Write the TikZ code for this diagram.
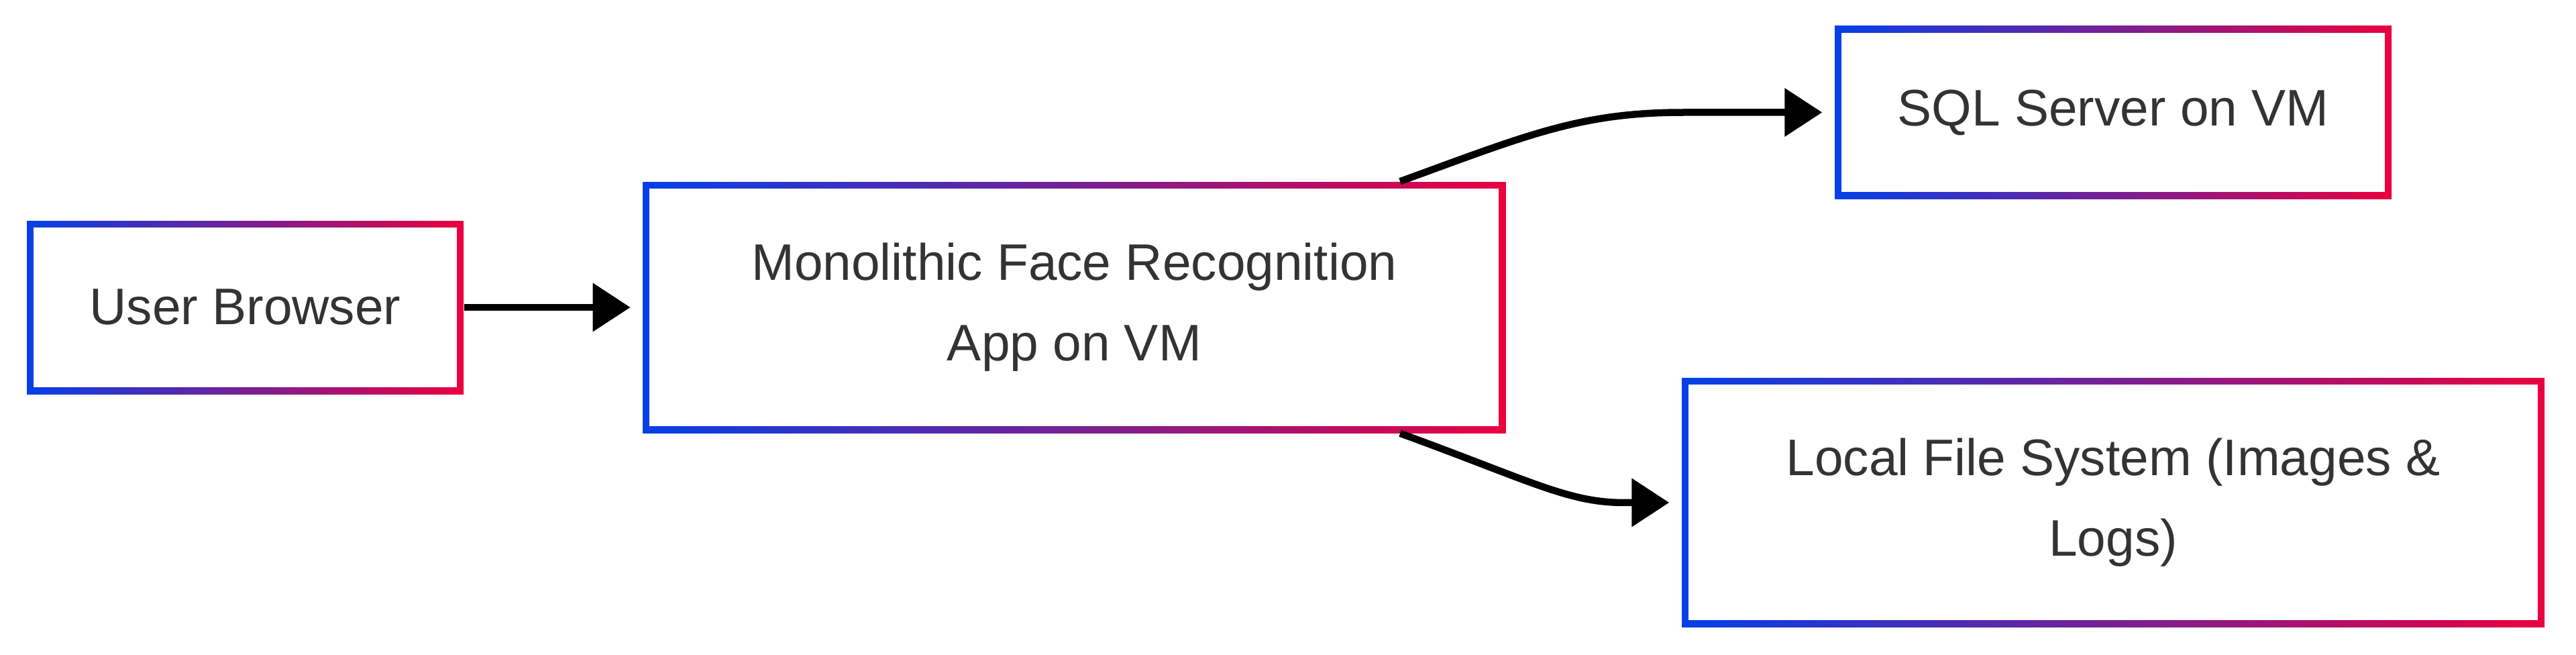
\documentclass[tikz,border=0pt]{standalone}
\usepackage{fontspec}
\setmainfont{Liberation Sans}
\usepackage{tikz}
\usetikzlibrary{arrows.meta, positioning}
\definecolor{gblue}{RGB}{4,64,232}
\definecolor{gred}{RGB}{234,0,64}
\definecolor{txtgrey}{RGB}{51,51,51}
\tikzset{
  gbox/.style={rectangle, inner sep=0pt, left color=gblue, right color=gred,
    text=txtgrey, align=center, font=\fontsize{21.8}{34.2}\selectfont,
    path picture={\fill[white] ([shift={(0.1,0.1)}]path picture bounding box.south west)
      rectangle ([shift={(-0.1,-0.1)}]path picture bounding box.north east);}},
  flow/.style={-{Triangle[length=5.6mm, width=7mm]}, line width=1.05mm, color=black,
    shorten >=0.18cm}
}

\begin{document}
\begin{tikzpicture}[node distance=2.66cm]
  \useasboundingbox (0,0) rectangle (38.4,-9.76);

  % Nodes
  \node[gbox, minimum width=6.51cm, minimum height=2.58cm] (user) at (3.655,-4.58) {User Browser};
  \node[gbox, minimum width=12.86cm, minimum height=3.74cm, right=of user] (mono) {Monolithic Face Recognition\\App on VM};
  \node[gbox, minimum width=8.30cm, minimum height=2.57cm] (sql) at (31.5,-1.675) {SQL Server on VM};
  \node[gbox, minimum width=12.86cm, minimum height=3.71cm, below=of sql] (files) {Local File System (Images \&\\Logs)};

  % Connections
  \draw[flow] (user) -- (mono);
  \draw[flow] ([xshift=-1.58cm]mono.north east) to[out=20, in=180, out looseness=1.2, in looseness=0.9] ([xshift=-2.25cm]sql.west) -- (sql);
  \draw[flow] ([xshift=-1.58cm]mono.south east) to[out=-20, in=180, out looseness=1.5, in looseness=0.6] ([xshift=-0.87cm]files.west) -- (files);

\end{tikzpicture}
\end{document}
